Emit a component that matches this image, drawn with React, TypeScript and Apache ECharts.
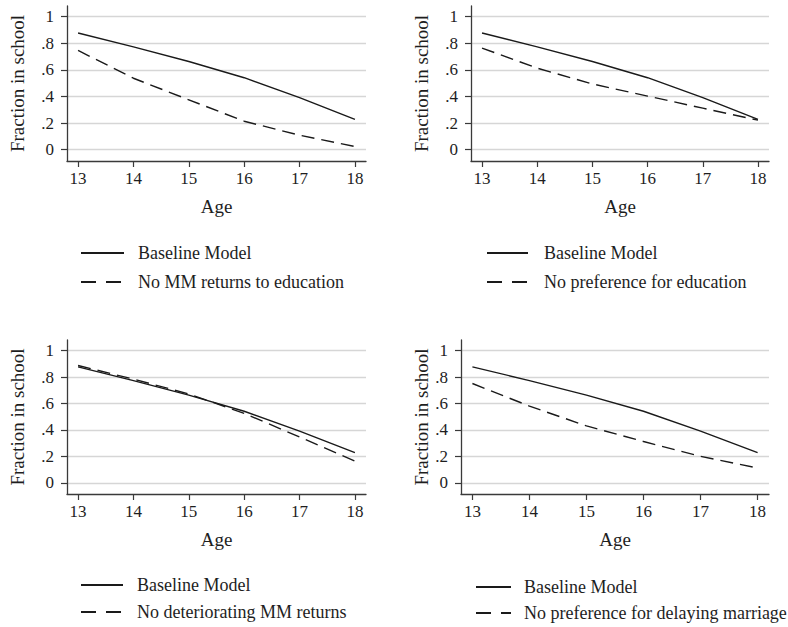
import React, { useEffect, useRef } from "react";
import * as echarts from "echarts";

const ages = [13, 14, 15, 16, 17, 18];
const baseline = [0.877, 0.773, 0.663, 0.541, 0.391, 0.228];
const noMMReturnsEdu = [0.746, 0.537, 0.375, 0.214, 0.109, 0.024];
const noPrefEdu = [0.764, 0.613, 0.494, 0.403, 0.312, 0.222];
const noDeterioratingMM = [0.887, 0.784, 0.672, 0.525, 0.346, 0.164];
const noPrefDelayMarriage = [0.751, 0.58, 0.43, 0.312, 0.2, 0.112];

const yTickValues = [0, 0.2, 0.4, 0.6, 0.8, 1];
const yTickLabels = ["0", ".2", ".4", ".6", ".8", "1"];
const xTickValues = [13, 14, 15, 16, 17, 18];
const xTickLabels = ["13", "14", "15", "16", "17", "18"];

const baselineName = "Baseline Model";
const altNames = [
  "No MM returns to education",
  "No preference for education",
  "No deteriorating MM returns",
  "No preference for delaying marriage",
];
const altSeries = [noMMReturnsEdu, noPrefEdu, noDeterioratingMM, noPrefDelayMarriage];

const FONT = "Liberation Serif";
const TEXT = "#1e1e1e";

const grids = [
  { left: 67, top: 6, width: 299, height: 155 },
  { left: 471, top: 6, width: 298, height: 155 },
  { left: 67, top: 340, width: 299, height: 154 },
  { left: 461, top: 340, width: 308, height: 154 },
];
const yNameGaps = [40, 40, 40, 30];
const legends = [
  { left: 80, top: 244, itemWidth: 43, pad: 9, gap: 11 },
  { left: 486, top: 244, itemWidth: 41, pad: 11, gap: 11 },
  { left: 80, top: 576, itemWidth: 42, pad: 9, gap: 9 },
  { left: 475, top: 578, itemWidth: 35, pad: 8, gap: 8 },
];

const labelFor = (values: number[], labels: string[]) => (v: number) => {
  const idx = values.findIndex((t) => Math.abs(t - v) < 1e-6);
  return idx >= 0 ? labels[idx] : "";
};

const css = `#fig-root svg text { font-family: "Liberation Serif", serif !important; }`;

export default function App() {
  const ref = useRef<HTMLDivElement>(null);
  useEffect(() => {
    document.body.style.margin = "0";
    if (!ref.current) return;
    const chart = echarts.init(ref.current, null, { renderer: "svg" });
    const toPairs = (vals: number[]) => ages.map((a, i) => [a, vals[i]]);

    const option: any = {
      animation: false,
      backgroundColor: "#ffffff",
      textStyle: { fontFamily: FONT, color: TEXT },
      grid: grids.map((g) => ({ ...g, containLabel: false, outerBoundsMode: "none" })),
      xAxis: grids.map((_, i) => ({
        type: "value",
        gridIndex: i,
        min: 12.8,
        max: 18.2,
        name: "Age",
        nameLocation: "middle",
        nameGap: 36,
        nameTextStyle: { fontFamily: FONT, fontSize: 19, color: TEXT },
        axisLine: { show: true, onZero: false, lineStyle: { color: "#3a3a3a", width: 1.3 } },
        axisTick: { show: true, length: 6, customValues: xTickValues, lineStyle: { color: "#3a3a3a", width: 1.2 } },
        axisLabel: {
          show: true,
          showMinLabel: false,
          showMaxLabel: false,
          margin: 9,
          fontFamily: FONT,
          fontSize: 17,
          color: TEXT,
          formatter: labelFor(xTickValues, xTickLabels),
        },
        splitLine: { show: false },
      })),
      yAxis: grids.map((_, i) => ({
        type: "value",
        gridIndex: i,
        min: -0.085,
        max: 1.08,
        name: "Fraction in school",
        nameLocation: "middle",
        nameGap: yNameGaps[i],
        nameTextStyle: { fontFamily: FONT, fontSize: 19, color: TEXT },
        axisLine: { show: true, onZero: false, lineStyle: { color: "#3a3a3a", width: 1.3 } },
        axisTick: { show: true, length: 6, customValues: yTickValues, lineStyle: { color: "#3a3a3a", width: 1.2 } },
        axisLabel: {
          show: true,
          showMinLabel: false,
          showMaxLabel: false,
          margin: 13,
          fontFamily: FONT,
          fontSize: 17,
          color: TEXT,
          formatter: labelFor(yTickValues, yTickLabels),
        },
        splitLine: { show: true, lineStyle: { color: "#d6d6d6", width: 1.3 } },
      })),
      legend: legends.map((l, i) => ({
        left: l.left,
        top: l.top,
        orient: "vertical",
        itemWidth: l.itemWidth,
        itemHeight: 14,
        itemGap: l.gap,
        padding: 0,
        selectedMode: false,
        itemStyle: { color: "rgba(0,0,0,0)", borderColor: "rgba(0,0,0,0)", borderWidth: 0 },
        textStyle: { fontFamily: FONT, fontSize: 18, color: TEXT, padding: [0, 0, 0, l.pad] },
        data: [
          { name: baselineName },
          { name: altNames[i], lineStyle: { type: [15, 10] } },
        ],
      })),
      series: grids.flatMap((_, i) => [
        {
          type: "line",
          name: baselineName,
          xAxisIndex: i,
          yAxisIndex: i,
          data: toPairs(baseline),
          symbol: "none",
          lineStyle: { color: "#1a1a1a", width: 1.4, type: "solid" },
          itemStyle: { color: "#1a1a1a" },
        },
        {
          type: "line",
          name: altNames[i],
          xAxisIndex: i,
          yAxisIndex: i,
          data: toPairs(altSeries[i]),
          symbol: "none",
          lineStyle: { color: "#1a1a1a", width: 1.4, type: [13, 7] },
          itemStyle: { color: "#1a1a1a" },
        },
      ]),
    };
    chart.setOption(option);
    return () => chart.dispose();
  }, []);
  return (
    <div id="fig-root">
      <style>{css}</style>
      <div ref={ref} style={{ width: 788, height: 627 }} />
    </div>
  );
}
